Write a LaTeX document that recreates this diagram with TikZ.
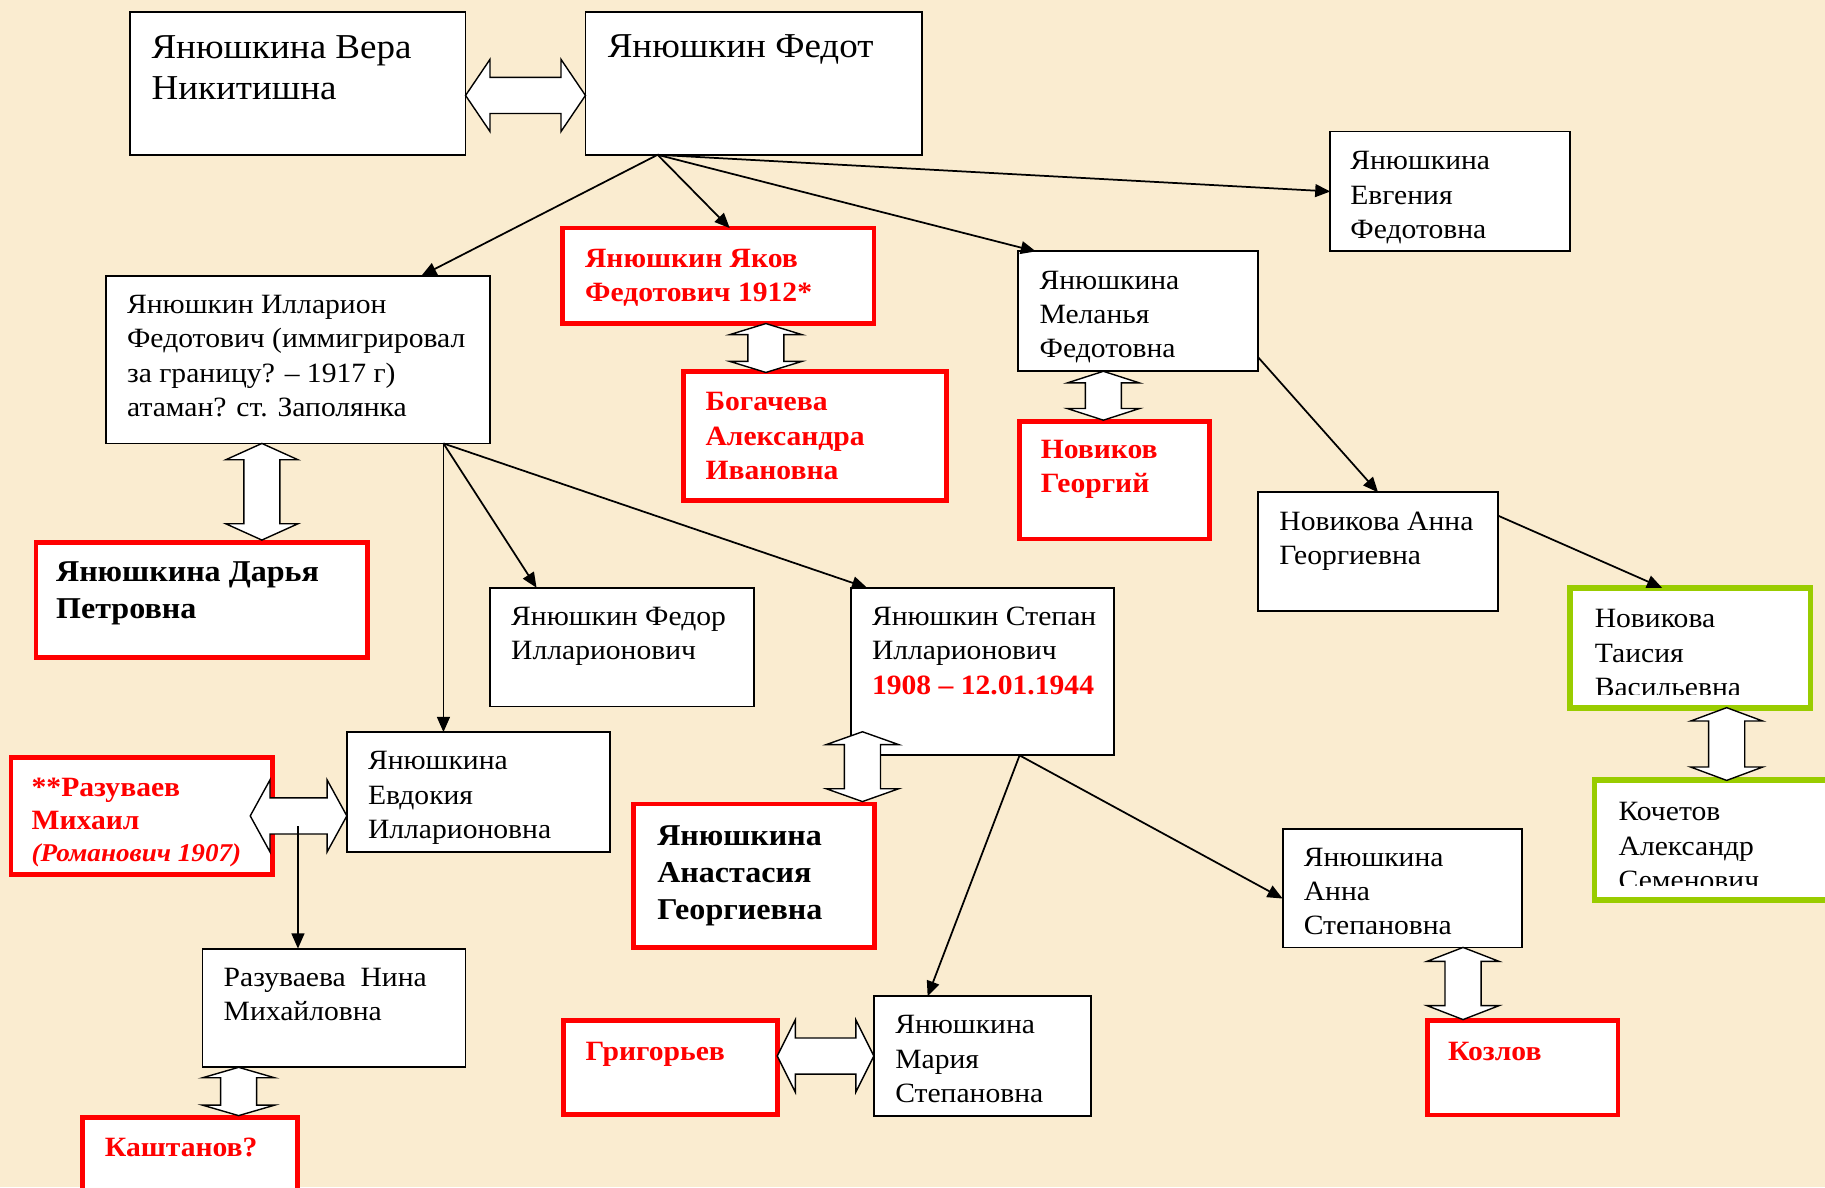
\documentclass[tikz,border=0pt]{standalone}
\usepackage{fontspec}
\setmainfont{Liberation Serif}[FakeStretch=1.06]
\usetikzlibrary{arrows.meta}

\definecolor{parchment}{RGB}{250,236,208}
\definecolor{leaf}{RGB}{153,204,0}

% white two-headed block arrow: start, angle, length, head length
\newcommand{\spouses}[4]{%
  \draw[spouse, shift={#1}, rotate=#2] (0,0) -- (#4,-31) -- (#4,-15.5) -- (#3-#4,-15.5) -- (#3-#4,-31) -- (#3,0)
    -- (#3-#4,31) -- (#3-#4,15.5) -- (#4,15.5) -- (#4,31) -- cycle;}

\begin{document}
\begin{tikzpicture}[x=1pt, y=-1pt,
    box/.style={draw=black, line width=1.6pt, fill=white, anchor=north west, inner sep=0pt, outer sep=0pt},
    redbox/.style={box, draw=red, line width=4pt},
    greenbox/.style={box, draw=leaf, line width=5pt},
    txt/.style={anchor=north west, inner sep=0pt, align=left, execute at begin node=\strut,
      font=\fontsize{24}{29.5}\selectfont},
    big/.style={txt, font=\fontsize{30}{36}\selectfont},
    redtxt/.style={txt, text=red, font=\bfseries\fontsize{24}{29.5}\selectfont},
    boldtxt/.style={txt, font=\bfseries\fontsize{26}{32}\selectfont},
    arr/.style={-{Triangle[length=13pt, width=11pt]}, line width=1.5pt},
    spouse/.style={draw=black, line width=1.2pt, fill=white, line join=miter}]

    % Background
    \useasboundingbox (0,0) rectangle (1568,1020);
    \fill[parchment] (0,0) rectangle (1568,1020);

    % Parents
    \node[box, minimum width=288pt, minimum height=123pt] (vera) at (112,10) {};
    \node[big] (veraT) at ([shift={(18,20)}]vera.north west) {Янюшкина Вера\\Никитишна};
    \node[box, minimum width=289pt, minimum height=123pt] (fedot) at (503,10) {};
    \node[big] (fedotT) at ([shift={(19,14)}]fedot.north west) {Янюшкин Федот};

    % Children of Fedot
    \node[box, minimum width=206pt, minimum height=103pt] (evgenia) at (1143,113) {};
    \node[txt] (evgeniaT) at ([shift={(17,16.9)}]evgenia.north west) {Янюшкина\\Евгения\\Федотовна};
    \node[redbox, minimum width=268pt, minimum height=82pt] (yakov) at (483,196) {};
    \node[redtxt] (yakovT) at ([shift={(19.5,17.5)}]yakov.north west) {Янюшкин Яков\\Федотович 1912*};
    \node[redbox, minimum width=226pt, minimum height=111pt] (bogacheva) at (587,319) {};
    \node[redtxt] (bogachevaT) at ([shift={(19,18)}]bogacheva.north west) {Богачева\\Александра\\Ивановна};
    \node[box, minimum width=206pt, minimum height=103pt] (melanya) at (875,216) {};
    \node[txt] (melanyaT) at ([shift={(18,16.4)}]melanya.north west) {Янюшкина\\Меланья\\Федотовна};
    \node[redbox, minimum width=163pt, minimum height=101pt] (novikov) at (876,362) {};
    \node[redtxt] (novikovT) at ([shift={(18,16)}]novikov.north west) {Новиков\\Георгий};
    \node[box, minimum width=330pt, minimum height=144pt] (illarion) at (91,237) {};
    \node[txt] (illarionT) at ([shift={(18,16.4)}]illarion.north west)
      {Янюшкин Илларион\\Федотович (иммигрировал\\за границу? – 1917 г)\\атаман? ст. Заполянка};
    \node[redbox, minimum width=285pt, minimum height=99pt] (darya) at (31,466) {};
    \node[boldtxt] (daryaT) at ([shift={(17,16.4)}]darya.north west) {Янюшкина Дарья\\Петровна};

    % Grandchildren
    \node[box, minimum width=227pt, minimum height=102pt] (fedor) at (421,505) {};
    \node[txt] (fedorT) at ([shift={(18,16.4)}]fedor.north west) {Янюшкин Федор\\Илларионович};
    \node[box, minimum width=226pt, minimum height=144pt] (stepan) at (731,505) {};
    \node[txt] (stepanT) at ([shift={(18,16.4)}]stepan.north west)
      {Янюшкин Степан\\Илларионович\\{\color{red}\bfseries 1908 – 12.01.1944}};
    \node[box, minimum width=206pt, minimum height=102pt] (annaN) at (1081,423) {};
    \node[txt] (annaNT) at ([shift={(18,16.4)}]annaN.north west) {Новикова Анна\\Георгиевна};
    \node[box, minimum width=226pt, minimum height=103pt] (evdokia) at (298,629) {};
    \node[txt] (evdokiaT) at ([shift={(18,16.4)}]evdokia.north west) {Янюшкина\\Евдокия\\Илларионовна};
    \node[redbox, minimum width=225pt, minimum height=101pt] (razuvaev) at (9.4,650.6) {};
    \node[redtxt, font=\bfseries\fontsize{24}{28}\selectfont] (razuvaevT) at ([shift={(17.6,17.9)}]razuvaev.north west)
      {**Разуваев\\Михаил\\{\fontsize{22}{28}\selectfont\itshape (Романович 1907)}};
    \node[redbox, minimum width=207pt, minimum height=123.5pt] (anastasia) at (544.5,690.7) {};
    \node[boldtxt] (anastasiaT) at ([shift={(20,18.4)}]anastasia.north west) {Янюшкина\\Анастасия\\Георгиевна};

    % Green branch
    \node[greenbox, minimum width=206.5pt, minimum height=103pt] (taisia) at (1349,505) {};
    \begin{scope}
      \clip (taisia.north west) rectangle ([yshift=11pt]taisia.south east);
      \node[txt] (taisiaT) at ([shift={(21,18.6)}]taisia.north west) {Новикова\\Таисия\\Васильевна};
    \end{scope}
    \node[greenbox, minimum width=250pt, minimum height=103pt] (kochetov) at (1370,670) {};
    \begin{scope}
      \clip (kochetov.north west) rectangle ([yshift=12.5pt]kochetov.south east);
      \node[txt] (kochetovT) at ([shift={(20.5,19.2)}]kochetov.north west) {Кочетов\\Александр\\Семенович};
    \end{scope}

    % Lower row
    \node[box, minimum width=206pt, minimum height=102pt] (annaS) at (1102,712) {};
    \node[txt] (annaST) at ([shift={(18,16.4)}]annaS.north west) {Янюшкина\\Анна\\Степановна};
    \node[box, minimum width=226pt, minimum height=102pt] (nina) at (174,815) {};
    \node[txt] (ninaT) at ([shift={(18,16.4)}]nina.north west) {Разуваева~~Нина\\Михайловна};
    \node[box, minimum width=186pt, minimum height=103pt] (maria) at (751,856) {};
    \node[txt] (mariaT) at ([shift={(18,16.4)}]maria.north west) {Янюшкина\\Мария\\Степановна};
    \node[redbox, minimum width=184.5pt, minimum height=80pt] (kashtanov) at (71,960) {};
    \node[redtxt] (kashtanovT) at ([shift={(19,13)}]kashtanov.north west) {Каштанов?};
    \node[redbox, minimum width=183.5pt, minimum height=81pt] (grigoriev) at (484.3,876.8) {};
    \node[redtxt] (grigorievT) at ([shift={(18.7,13.2)}]grigoriev.north west) {Григорьев};
    \node[redbox, minimum width=163.5pt, minimum height=81pt] (kozlov) at (1226.5,877) {};
    \node[redtxt] (kozlovT) at ([shift={(17.5,13)}]kozlov.north west) {Козлов};

    % Marriages
    \spouses{([yshift=-10.5pt]vera.east)}{0}{103}{21}
    \spouses{([xshift=175pt]yakov.south west)}{-90}{42}{9.5}
    \spouses{([xshift=73pt]melanya.south west)}{-90}{42}{10}
    \spouses{([xshift=134pt]illarion.south west)}{-90}{83}{14}
    \spouses{([xshift=-83pt, yshift=-20.5pt]evdokia.west)}{0}{83}{17}
    \spouses{([xshift=196.5pt, yshift=62pt]anastasia.north west)}{-90}{60}{11}
    \spouses{([xshift=31pt]nina.south west)}{-90}{41.5}{9}
    \spouses{([yshift=10pt]grigoriev.east)}{0}{83}{15.5}
    \spouses{([xshift=155pt]annaS.south west)}{-90}{62}{12}
    \spouses{([xshift=134.5pt]taisia.south west)}{-90}{62.5}{11.5}

    % Descent
    \coordinate (fedotOut) at ([xshift=62pt]fedot.south west);
    \draw[arr] (fedotOut) -- ([xshift=271pt]illarion.north west);
    \draw[arr] (fedotOut) -- ([xshift=144pt]yakov.north west);
    \draw[arr] (fedotOut) -- ([xshift=15pt]melanya.north west);
    \draw[arr] (fedotOut) -- (evgenia.west);
    \coordinate (illarionOut) at ([xshift=290pt]illarion.south west);
    \draw[arr] (illarionOut) -- ([xshift=83pt]evdokia.north west);
    \draw[arr] (illarionOut) -- ([xshift=40pt]fedor.north west);
    \draw[arr] (illarionOut) -- ([xshift=14pt]stepan.north west);
    \coordinate (stepanOut) at ([xshift=145pt]stepan.south west);
    \draw[arr] (stepanOut) -- ([xshift=46pt]maria.north west);
    \draw[arr] (stepanOut) -- ([yshift=-9pt]annaS.west);
    \draw[arr] ([yshift=12pt]melanya.south east) -- (annaN.north);
    \draw[arr] ([yshift=-20pt]annaN.north east) -- ([xshift=79pt]taisia.north west);
    \coordinate (razuvaevOut) at (256,710);
    \draw[arr] (razuvaevOut) -- ([xshift=82pt]nina.north west);
\end{tikzpicture}
\end{document}
